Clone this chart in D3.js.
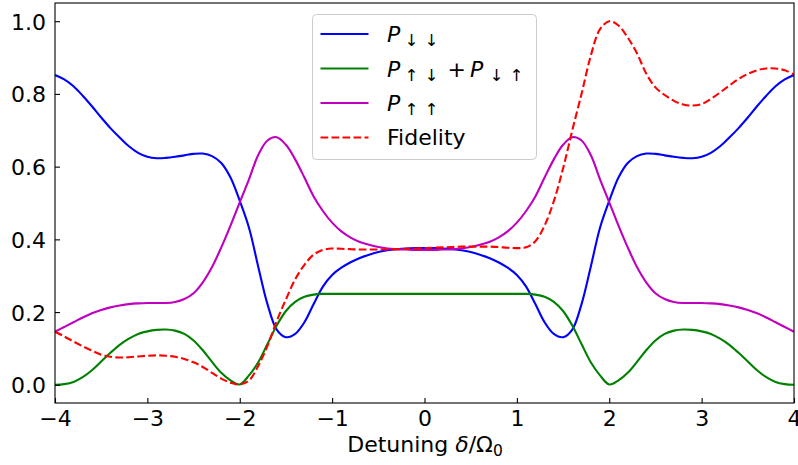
<!DOCTYPE html>
<html>
<head>
<meta charset="utf-8">
<script src="https://cdn.jsdelivr.net/npm/d3@7"></script>
<style>
  html, body { margin: 0; padding: 0; background: #ffffff; }
  svg { display: block; font-family: "DejaVu Sans", sans-serif; }
</style>
</head>
<body>
<svg id="chart" width="798" height="465"></svg>
<script>
// Detuning grid (units of Omega_0)
const detuning = [
  -4.0,-3.9,-3.8,-3.7,-3.6,-3.5,-3.4,-3.3,-3.2,-3.1,
  -3.0,-2.9,-2.8,-2.7,-2.6,-2.5,-2.4,-2.3,-2.2,-2.1,
  -2.0,-1.9,-1.8,-1.7,-1.6,-1.5,-1.4,-1.3,-1.2,-1.1,
  -1.0,-0.9,-0.8,-0.7,-0.6,-0.5,-0.4,-0.3,-0.2,-0.1,
   0.0,
   0.1, 0.2, 0.3, 0.4, 0.5, 0.6, 0.7, 0.8, 0.9, 1.0,
   1.1, 1.2, 1.3, 1.4, 1.5, 1.6, 1.7, 1.8, 1.9, 2.0,
   2.1, 2.2, 2.3, 2.4, 2.5, 2.6, 2.7, 2.8, 2.9, 3.0,
   3.1, 3.2, 3.3, 3.4, 3.5, 3.6, 3.7, 3.8, 3.9, 4.0
];

// P_down,down
const pDownDown = [
  0.852,0.840,0.821,0.795,0.766,0.735,0.706,0.680,0.656,0.638,
  0.627,0.623,0.624,0.627,0.631,0.635,0.636,0.629,0.610,0.570,
  0.506,0.432,0.325,0.222,0.152,0.131,0.140,0.172,0.222,0.270,
  0.302,0.322,0.337,0.349,0.358,0.365,0.370,0.373,0.375,0.376,
  0.376,
  0.376,0.375,0.373,0.370,0.365,0.358,0.349,0.337,0.322,0.302,
  0.270,0.222,0.172,0.140,0.131,0.152,0.222,0.325,0.432,0.506,
  0.570,0.610,0.629,0.636,0.635,0.631,0.627,0.624,0.623,0.627,
  0.638,0.656,0.680,0.706,0.735,0.766,0.795,0.821,0.840,0.852
];

// P_up,down + P_down,up
const pMixed = [
  0.000,0.002,0.008,0.021,0.040,0.064,0.088,0.110,0.127,0.140,
  0.147,0.151,0.152,0.149,0.140,0.122,0.095,0.063,0.033,0.012,
  0.001,0.026,0.062,0.112,0.163,0.203,0.228,0.242,0.248,0.250,
  0.250,0.250,0.250,0.250,0.250,0.250,0.250,0.250,0.250,0.250,
  0.250,
  0.250,0.250,0.250,0.250,0.250,0.250,0.250,0.250,0.250,0.250,
  0.250,0.248,0.242,0.228,0.203,0.163,0.112,0.062,0.026,0.001,
  0.012,0.033,0.063,0.095,0.122,0.140,0.149,0.152,0.151,0.147,
  0.140,0.127,0.110,0.088,0.064,0.040,0.021,0.008,0.002,0.000
];

// P_up,up
const pUpUp = [
  0.146,0.159,0.172,0.185,0.197,0.206,0.213,0.218,0.222,0.224,
  0.225,0.225,0.225,0.228,0.236,0.252,0.282,0.324,0.378,0.438,
  0.502,0.565,0.632,0.672,0.681,0.660,0.620,0.570,0.518,0.478,
  0.446,0.422,0.405,0.393,0.385,0.379,0.375,0.373,0.372,0.371,
  0.371,
  0.371,0.372,0.373,0.375,0.379,0.385,0.393,0.405,0.422,0.446,
  0.478,0.518,0.570,0.620,0.660,0.681,0.672,0.632,0.565,0.502,
  0.438,0.378,0.324,0.282,0.252,0.236,0.228,0.225,0.225,0.225,
  0.224,0.222,0.218,0.213,0.206,0.197,0.185,0.172,0.159,0.146
];

// Gate fidelity
const fidelity = [
  0.146,0.133,0.119,0.106,0.094,0.083,0.077,0.075,0.076,0.078,
  0.080,0.081,0.080,0.077,0.071,0.062,0.049,0.033,0.017,0.006,
  0.001,0.012,0.052,0.107,0.175,0.235,0.290,0.330,0.358,0.371,
  0.375,0.374,0.373,0.372,0.372,0.372,0.372,0.373,0.374,0.375,
  0.376,
  0.377,0.378,0.379,0.380,0.380,0.380,0.380,0.379,0.377,0.376,
  0.378,0.395,0.438,0.505,0.595,0.700,0.800,0.905,0.978,1.000,
  0.988,0.955,0.912,0.856,0.818,0.797,0.781,0.771,0.768,0.772,
  0.786,0.804,0.823,0.841,0.855,0.865,0.870,0.870,0.865,0.853
];

const xTicks = [-4, -3, -2, -1, 0, 1, 2, 3, 4];
const yTicks = [0.0, 0.2, 0.4, 0.6, 0.8, 1.0];

const series = [
  { key: "dd",  values: pDownDown, color: "#0000ff", dash: null },
  { key: "mix", values: pMixed,    color: "#008000", dash: null },
  { key: "uu",  values: pUpUp,     color: "#bf00bf", dash: null },
  { key: "fid", values: fidelity,  color: "#ff0000", dash: "7.7,3.3" }
];

const svg = d3.select("#chart");
const margin = { left: 55, top: 3, right: 4, bottom: 62 };
const W = 798, H = 465;
const plotW = W - margin.left - margin.right;
const plotH = H - margin.top - margin.bottom;

const x = d3.scaleLinear().domain([-4, 4]).range([margin.left, margin.left + plotW]);
const y = d3.scaleLinear().domain([-0.05, 1.05]).range([margin.top + plotH, margin.top]);

const fontSize = 22;

// clip curves to the axes box
svg.append("defs").append("clipPath").attr("id", "plotClip")
  .append("rect")
  .attr("x", margin.left).attr("y", margin.top)
  .attr("width", plotW).attr("height", plotH);

const line = d3.line()
  .x((d, i) => x(detuning[i]))
  .y(d => y(d))
  .curve(d3.curveCatmullRom.alpha(0.5));

const curves = svg.append("g").attr("clip-path", "url(#plotClip)");
series.forEach(s => {
  curves.append("path")
    .datum(s.values)
    .attr("d", line)
    .attr("fill", "none")
    .attr("stroke", s.color)
    .attr("stroke-width", 2.1)
    .attr("stroke-dasharray", s.dash)
    .attr("stroke-linejoin", "round");
});

// axes: inward ticks on bottom and left
const xAxis = d3.axisBottom(x).tickValues(xTicks).tickSizeInner(-5).tickSizeOuter(0)
  .tickPadding(7).tickFormat(d => d < 0 ? "\u2212" + Math.abs(d) : String(d));
const gx = svg.append("g").attr("transform", `translate(0,${margin.top + plotH})`).call(xAxis);

const yAxis = d3.axisLeft(y).tickValues(yTicks).tickSizeInner(-5).tickSizeOuter(0)
  .tickPadding(9).tickFormat(d3.format(".1f"));
const gy = svg.append("g").attr("transform", `translate(${margin.left},0)`).call(yAxis);

[gx, gy].forEach(g => {
  g.select(".domain").remove();
  g.selectAll(".tick line").attr("stroke", "#000").attr("stroke-width", 1.1);
  g.selectAll(".tick text").attr("fill", "#000")
    .style("font-family", "DejaVu Sans").style("font-size", fontSize + "px");
});
gy.selectAll(".tick text").attr("dy", "0.36em");
gx.selectAll(".tick text").attr("dy", "0.72em");

// frame
svg.append("rect")
  .attr("x", margin.left).attr("y", margin.top)
  .attr("width", plotW).attr("height", plotH)
  .attr("fill", "none").attr("stroke", "#000").attr("stroke-width", 1.1);

// x-axis title
const xl = svg.append("text")
  .attr("x", 425).attr("y", 452)
  .attr("text-anchor", "middle")
  .style("font-size", fontSize + "px").attr("fill", "#000");
xl.append("tspan").text("Detuning ");
xl.append("tspan").style("font-style", "oblique").text("\u03b4");
xl.append("tspan").text("/\u03a9");
xl.append("tspan").attr("dy", 4).style("font-size", "15.5px").text("0");

// legend
const legend = svg.append("g");
legend.append("rect")
  .attr("x", 312.5).attr("y", 14.5).attr("width", 224).attr("height", 145)
  .attr("rx", 4).attr("fill", "#ffffff").attr("fill-opacity", 0.8)
  .attr("stroke", "#cccccc").attr("stroke-width", 1);

const rowsY = [34, 68.5, 103, 137.5];
series.forEach((s, i) => {
  legend.append("line")
    .attr("x1", 320.5).attr("x2", 368.5)
    .attr("y1", rowsY[i]).attr("y2", rowsY[i])
    .attr("stroke", s.color).attr("stroke-width", 2.1)
    .attr("stroke-dasharray", s.dash);
});

const subSize = 16.5;
function addP(xPos, rowY) {
  legend.append("text").attr("x", xPos).attr("y", rowY + 8)
    .style("font-size", fontSize + "px").style("font-style", "oblique")
    .attr("fill", "#000").text("P");
}
function addArrow(xPos, rowY, ch) {
  legend.append("text").attr("x", xPos).attr("y", rowY + 12)
    .attr("text-anchor", "middle")
    .style("font-size", subSize + "px").attr("fill", "#000").text(ch);
}
const down = "\u2193", up = "\u2191";
// P_{↓↓}
addP(387, rowsY[0]); addArrow(411.7, rowsY[0], down); addArrow(431.7, rowsY[0], down);
// P_{↑↓} + P_{↓↑}
addP(387, rowsY[1]); addArrow(411.7, rowsY[1], up); addArrow(431.7, rowsY[1], down);
legend.append("text").attr("x", 456.7).attr("y", rowsY[1] + 8).attr("text-anchor", "middle")
  .style("font-size", fontSize + "px").attr("fill", "#000").text("+");
addP(470, rowsY[1]); addArrow(496.7, rowsY[1], down); addArrow(516.7, rowsY[1], up);
// P_{↑↑}
addP(387, rowsY[2]); addArrow(411.7, rowsY[2], up); addArrow(431.7, rowsY[2], up);
// Fidelity
legend.append("text").attr("x", 387).attr("y", rowsY[3] + 7.5)
  .style("font-size", fontSize + "px").attr("fill", "#000").text("Fidelity");
</script>
</body>
</html>
